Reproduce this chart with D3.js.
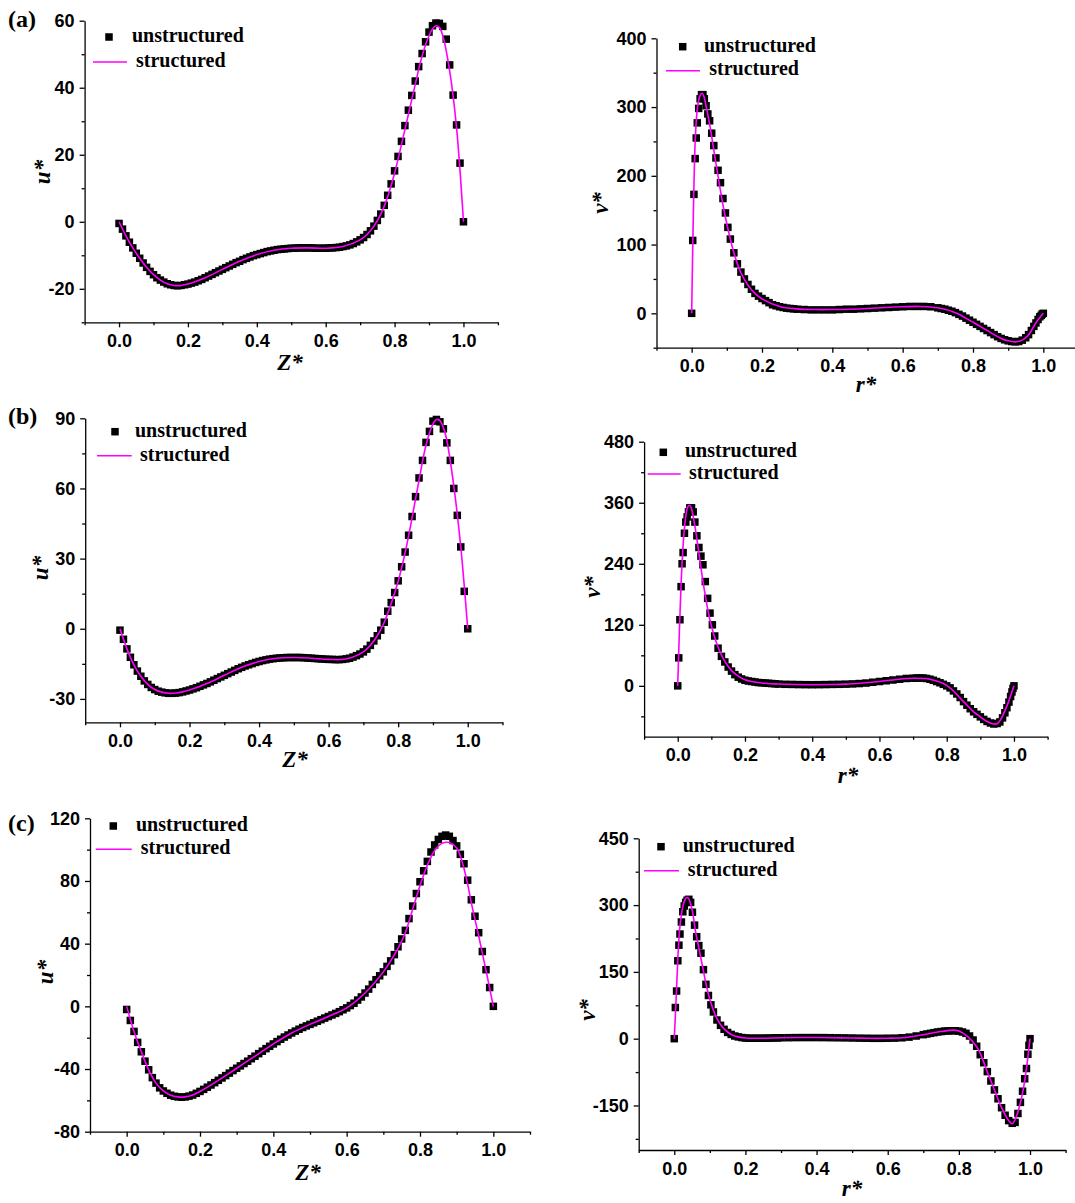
<!DOCTYPE html>
<meta charset="utf-8">
<title>u* and v* profiles, unstructured vs structured</title>
<style>
  body { margin: 0; background: #fff; }
  svg { display: block; }
  .axis path, .axis line { stroke: #000; stroke-width: 1.3px; }
  .axis text { font: bold 18px "Liberation Sans", Arial, sans-serif; fill: #000; }
  .legend text { font: bold 20px "Liberation Serif", "Times New Roman", serif; fill: #000; }
  .title { font: italic bold 23px "Liberation Serif", "Times New Roman", serif; fill: #000; }
  .tag { font: bold 24px "Liberation Serif", "Times New Roman", serif; fill: #000; }
</style>
<svg width="1075" height="1203"></svg>
<script src="https://cdn.jsdelivr.net/npm/d3@7"></script>
<script>
  // grids (Z* for the u* panels, r* for the v* panels)
  var zMark = [0,0.01,0.02,0.03,0.04,0.05,0.06,0.07,0.08,0.09,
    0.1,0.11,0.12,0.13,0.14,0.15,0.16,0.17,0.18,0.19,
    0.2,0.21,0.22,0.23,0.24,0.25,0.26,0.27,0.28,0.29,
    0.3,0.31,0.32,0.33,0.34,0.35,0.36,0.37,0.38,0.39,
    0.4,0.41,0.42,0.43,0.44,0.45,0.46,0.47,0.48,0.49,
    0.5,0.51,0.52,0.53,0.54,0.55,0.56,0.57,0.58,0.59,
    0.6,0.61,0.62,0.63,0.64,0.65,0.66,0.67,0.68,0.69,
    0.7,0.71,0.72,0.73,0.74,0.75,0.76,0.77,0.78,0.79,
    0.8,0.81,0.82,0.83,0.84,0.85,0.86,0.87,0.88,0.89,
    0.9,0.91,0.92,0.93,0.94,0.95,0.96,0.97,0.98,0.99,
    1];
  var rMark = [0,0.003,0.0065,0.01,0.013,0.016,0.02,0.024,0.028,0.032,0.036,0.041,0.046,0.051,0.057,0.063,0.069,0.075,0.082,0.089,0.096,0.103,0.11,
    0.12,0.13,0.14,0.15,0.16,0.17,0.18,0.19,0.2,0.21,0.22,0.23,0.24,0.25,0.26,0.27,0.28,0.29,0.3,
    0.32,0.34,0.36,0.38,0.4,0.42,0.44,0.46,0.48,0.5,0.52,0.54,0.56,0.58,0.6,0.62,0.64,0.66,0.68,0.7,
    0.71,0.72,0.73,0.74,0.75,0.76,0.77,0.78,0.79,0.8,0.81,0.82,0.83,0.84,0.85,0.86,0.87,0.88,0.89,0.9,0.91,0.92,0.93,0.94,0.95,
    0.958,0.966,0.973,0.979,0.985,0.99,0.994,0.997,1];
  var zLine = [0,0.02,0.04,0.06,0.08,0.1,0.12,0.14,0.16,0.18,0.2,0.25,0.3,0.35,0.4,0.45,0.5,0.55,0.6,0.65,
    0.7,0.72,0.74,0.76,0.78,0.8,0.82,0.84,0.86,0.88,0.9,0.91,0.92,0.93,0.94,0.96,0.98,1];
  var rLine = [0,0.005,0.01,0.015,0.02,0.025,0.03,0.035,0.04,0.05,0.06,0.07,0.08,0.09,0.1,0.12,0.14,0.16,0.18,0.2,
    0.25,0.3,0.35,0.4,0.45,0.5,0.55,0.6,0.65,0.7,0.75,0.8,0.85,0.88,0.9,0.92,0.94,0.95,0.96,0.98,1];

  // (a)
  var uUnsA = [-0.5,-2.2,-4.2,-6.1,-7.8,-9.4,-10.9,-12.3,-13.6,-14.8,
    -15.8,-16.7,-17.4,-18.0,-18.5,-18.8,-19.0,-19.1,-19.0,-18.8,
    -18.6,-18.3,-18.0,-17.6,-17.2,-16.7,-16.2,-15.7,-15.2,-14.7,
    -14.2,-13.7,-13.2,-12.7,-12.2,-11.8,-11.3,-10.9,-10.5,-10.1,
    -9.8,-9.5,-9.2,-8.9,-8.7,-8.5,-8.3,-8.2,-8.1,-8.0,
    -7.9,-7.9,-7.8,-7.8,-7.8,-7.8,-7.8,-7.9,-7.9,-7.9,
    -7.9,-7.8,-7.8,-7.7,-7.6,-7.4,-7.2,-6.9,-6.5,-6.0,
    -5.4,-4.7,-3.8,-2.7,-1.3,0.4,2.3,4.9,7.9,11.3,
    15.2,19.5,24.0,28.7,33.3,37.7,42.0,46.3,50.2,53.7,
    56.6,58.5,59.3,59.2,58.3,54.5,46.8,37.8,28.9,17.5,
    0];
  var uStrA = [0,-4.2,-7.8,-10.9,-13.6,-15.8,-17.4,-18.5,-19.0,-19.0,-18.6,-16.7,-14.2,-11.8,-9.8,-8.5,-7.9,-7.8,-7.9,-7.4,
    -5.4,-3.8,-1.3,2.3,7.5,14.5,23,32,41,49.5,55.5,57.5,58.5,58,55.5,45,28,0];
  var vUnsA = [0,106,173,225,255,277,298,312,318,318,312,302,290,280,262,244,226,208,190,167,146,125,108,
    88,72,60,50,42,35,29,25,21.5,18.5,15.5,12.5,11,9.5,8.5,7.5,7,6.5,6,
    5.5,5,5,5,5,5.5,6,6,6.5,7,7.5,8,8.5,9,9.5,10,10,10,9.5,8,
    7,6,4.5,3,1,-1.5,-4,-7,-10,-13,-16,-19,-22,-25,-28,-31,-34,-36.5,-38.5,-40,-41,-41.5,-41,-39,-35.5,
    -31,-25,-19,-14,-9,-5,-3,-1,0];
  var vStrA = [0,150,250,292,310,318,320,315,304,278,247,215,184,155,130,88,59,41,29,21,
    10,6.5,5.5,5.5,6,7,8.5,9.5,10,8,1,-13,-28,-36.5,-40,-41.5,-39,-35.5,-30,-13,0];

  // (b)
  var uUnsB = [-0.6,-4.5,-8.6,-12.2,-15.4,-18.1,-20.3,-22.3,-23.8,-25.1,
    -26.0,-26.7,-27.1,-27.4,-27.6,-27.6,-27.5,-27.3,-27.0,-26.6,
    -26.2,-25.7,-25.2,-24.6,-24.0,-23.4,-22.7,-22.0,-21.3,-20.6,
    -19.9,-19.2,-18.5,-17.8,-17.1,-16.5,-15.9,-15.4,-14.9,-14.4,
    -14.0,-13.6,-13.3,-13.0,-12.8,-12.6,-12.5,-12.4,-12.3,-12.3,
    -12.3,-12.3,-12.3,-12.4,-12.5,-12.6,-12.7,-12.8,-12.9,-13.0,
    -13.1,-13.1,-13.2,-13.2,-13.1,-12.9,-12.6,-12.1,-11.5,-10.8,
    -9.9,-8.7,-7.1,-5.2,-3.0,-0.6,2.8,7.5,11.2,15.5,
    20.5,26.5,32.8,40.0,48.0,56.5,64.5,72.0,79.7,84.4,
    88.8,89.5,88.5,85.5,79.5,72.0,60.0,48.5,35.0,16.0,
    0];
  var uStrB = [0,-8.6,-15.4,-20.3,-23.8,-26.0,-27.1,-27.6,-27.5,-27.0,-26.2,-23.4,-19.9,-16.5,-14.0,-12.6,-12.3,-12.6,-13.1,-12.9,
    -9.9,-7.1,-3.0,2.8,10.8,20.3,32.5,47.5,63.5,78.5,87.5,89.5,89,86,80.5,61,35,0];
  var vUnsB = [0,55,130,195,240,262,300,322,332,342,350,350,342,322,295,272,255,238,205,172,143,120,98,
    74,58,47,37,29,22,17,13.5,11,9.5,8.5,7.5,6.5,6,5.5,5,4.5,4,3.5,
    3,2.8,2.5,2.3,2.2,2.3,2.5,2.8,3,3.3,3.8,4.5,5.5,7,8.5,10,11.5,13,14.5,15,
    15.3,15.5,15.3,14.5,13,11,8.5,6,3,0,-4,-10,-16,-23,-31,-38,-45,-51,-56,-61,-66,-70,-73,-75,-74,
    -71,-63,-53,-43,-32,-21,-12,-5,0];
  var vStrB = [0,110,200,265,310,338,352,355,350,318,275,228,185,148,118,76,48,30,19,12,
    5.5,3.5,2.5,2.2,2.6,3.3,5.5,8.5,12.5,15,13,1,-31,-51,-61,-70,-75,-74.5,-67,-38,0];

  // (c)
  var uUnsC = [-2,-9,-16,-23,-29,-35,-40.5,-45.5,-49,-52,
    -54,-55.5,-56.7,-57.4,-57.8,-58,-57.8,-57.3,-56.6,-55.5,
    -54.3,-53,-51.6,-50.2,-48.7,-47.2,-45.7,-44.2,-42.6,-41,
    -39.5,-38,-36.5,-35,-33.4,-31.8,-30.2,-28.6,-27,-25.5,
    -24,-22.5,-21,-19.6,-18.3,-17,-15.8,-14.6,-13.5,-12.5,
    -11.5,-10.5,-9.5,-8.5,-7.5,-6.5,-5.5,-4.5,-3.4,-2.2,
    -1,0.5,2,4,6,8.5,11,14,17,19.5,
    22,25.5,29,33,38,43,48.5,56,64,72,
    79.5,86.5,92.5,98.5,103,106.5,108.5,109.3,108.5,105.8,
    102.4,97,91,80.5,68,57.5,47,35,23.4,12,
    0];
  var uStrC = [0,-16,-29,-40.5,-49,-54,-56.7,-57.8,-57.8,-56.6,-54.3,-47.2,-39.5,-31.8,-24,-17,-11.5,-6.5,-1,8.5,
    22,29,37,47,62,77,90,99.5,104,104.5,101,96,88,78,66,45,23,0];
  var vUnsC = [0,70,107,175,210,235,262,285,298,306,311,313,306,284,255,229,209,192,155,122,97,76,60,
    42,30,21,14,9.5,6,4,2.5,1.5,1,1,1,1,1,1.2,1.4,1.6,1.8,2,
    2.2,2.4,2.5,2.5,2.5,2.4,2.2,2,1.8,1.5,1.2,1,0.8,0.8,1,1.2,2,3.5,6,9,
    10.5,12,13.5,15,16,17,17.5,17.8,17.8,17,15,12,6,-3,-17,-36,-54,-74,-95,-115,-135,-155,-172,-184,-190,
    -188,-168,-143,-118,-90,-67,-35,-15,0];
  var vStrC = [0,85,180,245,278,300,312,317,315,290,240,200,160,120,88,45,22,9.5,4,1.5,
    1,2,2.5,2.5,2,1.5,0.8,1,2.7,9,16,17.5,-18,-75,-115,-155,-184,-191,-178,-118,0];

  // tick values
  var xMajor = [0,0.2,0.4,0.6,0.8,1.0],
    xMinor = [-0.1,0.1,0.3,0.5,0.7,0.9,1.1];
  var uMajorA = [-20,0,20,40,60], uMinorA = [-30,-10,10,30,50];
  var vMajorA = [0,100,200,300,400], vMinorA = [-50,50,150,250,350];
  var uMajorB = [-30,0,30,60,90], uMinorB = [-15,15,45,75];
  var vMajorB = [0,120,240,360,480], vMinorB = [-60,60,180,300,420];
  var uMajorC = [-80,-40,0,40,80,120], uMinorC = [-60,-20,20,60,100];
  var vMajorC = [-150,0,150,300,450], vMinorC = [-225,-75,75,225,375];

  var panels = [
    {tag: "(a)", tagAt: [8, 27], xs: zMark, ys: uUnsA, lxs: zLine, lys: uStrA,
      xr: [84.6, 497.9], yd: [-30, 60], yr: [322.3, 20.7], yMajor: uMajorA, yMinor: uMinorA,
      xTitle: "Z*", xtAt: [290, 370], yTitle: "u*", ytAt: [50, 172],
      sq: [109, 37], t1: [132, 42], ln: [93, 127, 62], t2: [136, 67]},
    {xs: rMark, ys: vUnsA, lxs: rLine, lys: vStrA,
      xr: [656.5, 1078.5], yd: [-50, 400], yr: [347.7, 38.3], yMajor: vMajorA, yMinor: vMinorA,
      xTitle: "r*", xtAt: [866, 392], yTitle: "v*", ytAt: [608, 203],
      sq: [682.7, 46.7], t1: [704, 51.7], ln: [666, 700, 70.7], t2: [709.3, 75]},
    {tag: "(b)", tagAt: [8, 424], xs: zMark, ys: uUnsB, lxs: zLine, lys: uStrB,
      xr: [85.2, 502.5], yd: [-40, 90], yr: [722.3, 418.3], yMajor: uMajorB, yMinor: uMinorB,
      xTitle: "Z*", xtAt: [295, 767], yTitle: "u*", ytAt: [48, 568],
      sq: [115, 431.7], t1: [135, 436.7], ln: [97, 131.7, 455.7], t2: [140, 460.7]},
    {xs: rMark, ys: vUnsB, lxs: rLine, lys: vStrB,
      xr: [644.1, 1047.6], yd: [-100, 480], yr: [736.7, 441.7], yMajor: vMajorB, yMinor: vMinorB,
      xTitle: "r*", xtAt: [848, 783], yTitle: "v*", ytAt: [600, 587],
      sq: [663.3, 452.3], t1: [685, 456.7], ln: [647.7, 680.7, 474], t2: [689, 479.3]},
    {tag: "(c)", tagAt: [8, 831], xs: zMark, ys: uUnsC, lxs: zLine, lys: uStrC,
      xr: [90, 530], yd: [-80, 120], yr: [1131.7, 818.3], yMajor: uMajorC, yMinor: uMinorC,
      xTitle: "Z*", xtAt: [308, 1180], yTitle: "u*", ytAt: [53, 972],
      sq: [113.3, 826], t1: [136, 830.7], ln: [95.7, 131.7, 849.3], t2: [140.7, 854]},
    {xs: rMark, ys: vUnsC, lxs: rLine, lys: vStrC,
      xr: [638.7, 1065.6], yd: [-250, 450], yr: [1150, 838.3], yMajor: vMajorC, yMinor: vMinorC,
      xTitle: "r*", xtAt: [852, 1196], yTitle: "v*", ytAt: [595, 1010],
      sq: [661, 846.7], t1: [682.7, 851.7], ln: [644, 679, 870.7], t2: [687.7, 876]}
  ];

  var svg = d3.select("svg"),
    magenta = "#ff00ff",
    box = 7.5;

  panels.forEach(drawPanel);

  function drawPanel(p) {
    var x = d3.scaleLinear().domain([-0.1, 1.1]).range(p.xr),
      y = d3.scaleLinear().domain(p.yd).range(p.yr);
    var g = svg.append("g");
    var yBase = p.yr[0], xBase = p.xr[0];

    // axes: major ticks with labels, minor ticks without
    g.append("g").attr("class", "axis")
      .attr("transform", "translate(0," + yBase + ")")
      .call(d3.axisBottom(x).tickValues(xMajor).tickFormat(d3.format(".1f"))
        .tickSize(5).tickSizeOuter(0).tickPadding(7));
    g.append("g").attr("class", "axis")
      .attr("transform", "translate(0," + yBase + ")")
      .call(d3.axisBottom(x).tickValues(xMinor).tickFormat("").tickSize(3))
      .call(function(s) { s.select(".domain").remove(); });

    g.append("g").attr("class", "axis")
      .attr("transform", "translate(" + xBase + ",0)")
      .call(d3.axisLeft(y).tickValues(p.yMajor).tickFormat(function(d) { return String(d); })
        .tickSize(5).tickSizeOuter(0).tickPadding(5));
    g.append("g").attr("class", "axis")
      .attr("transform", "translate(" + xBase + ",0)")
      .call(d3.axisLeft(y).tickValues(p.yMinor).tickFormat("").tickSize(3))
      .call(function(s) { s.select(".domain").remove(); });

    // unstructured: black squares
    var pts = d3.range(Math.min(p.xs.length, p.ys.length));
    g.append("g").selectAll("rect")
      .data(pts)
      .enter().append("rect")
      .attr("x", function(i) { return x(p.xs[i]) - box / 2; })
      .attr("y", function(i) { return y(p.ys[i]) - box / 2; })
      .attr("width", box)
      .attr("height", box)
      .attr("fill", "#000");

    // structured: magenta line
    var line = d3.line()
      .x(function(i) { return x(p.lxs[i]); })
      .y(function(i) { return y(p.lys[i]); })
      .curve(d3.curveCatmullRom.alpha(0.5));
    g.append("path")
      .attr("d", line(d3.range(Math.min(p.lxs.length, p.lys.length))))
      .attr("fill", "none")
      .attr("stroke", magenta)
      .attr("stroke-width", 1.6);

    // titles
    g.append("text").attr("class", "title")
      .attr("x", p.xtAt[0]).attr("y", p.xtAt[1])
      .attr("text-anchor", "middle")
      .text(p.xTitle);
    g.append("text").attr("class", "title")
      .attr("transform", "translate(" + p.ytAt[0] + "," + p.ytAt[1] + ") rotate(-90)")
      .attr("text-anchor", "middle")
      .text(p.yTitle);

    if (p.tag) {
      g.append("text").attr("class", "tag")
        .attr("x", p.tagAt[0]).attr("y", p.tagAt[1])
        .text(p.tag);
    }

    // legend
    var leg = g.append("g").attr("class", "legend");
    leg.append("rect")
      .attr("x", p.sq[0] - box / 2).attr("y", p.sq[1] - box / 2)
      .attr("width", box).attr("height", box).attr("fill", "#000");
    leg.append("text").attr("x", p.t1[0]).attr("y", p.t1[1]).text("unstructured");
    leg.append("line")
      .attr("x1", p.ln[0]).attr("x2", p.ln[1])
      .attr("y1", p.ln[2]).attr("y2", p.ln[2])
      .attr("stroke", magenta).attr("stroke-width", 1.6);
    leg.append("text").attr("x", p.t2[0]).attr("y", p.t2[1]).text("structured");
  }
</script>
